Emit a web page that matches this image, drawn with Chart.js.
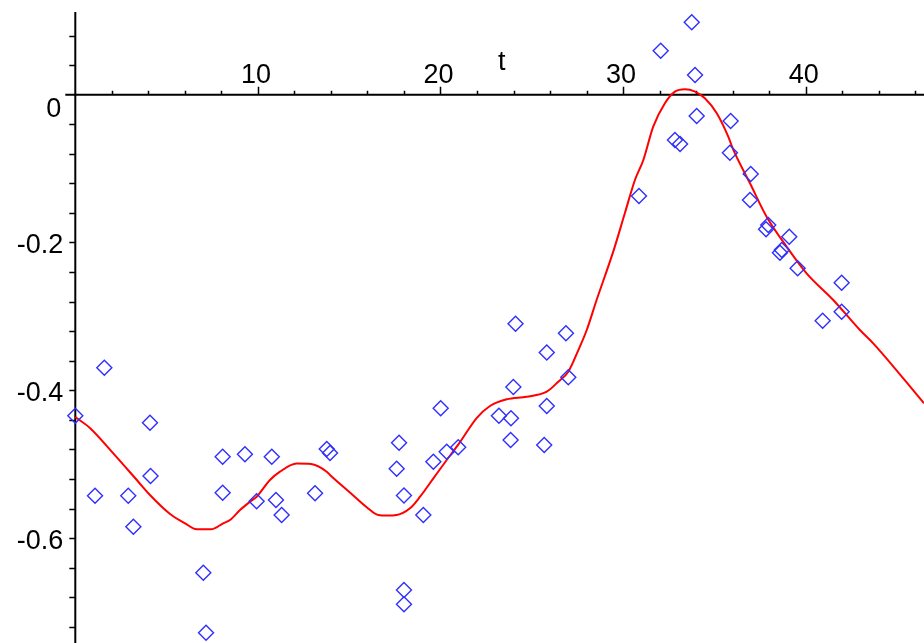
<!DOCTYPE html>
<html>
<head>
<meta charset="utf-8">
<script src="https://cdn.jsdelivr.net/npm/chart.js@4.4.1/dist/chart.umd.min.js"></script>
<style>
  body { margin: 0; background: #fff; }
  canvas { display: block; }
</style>
</head>
<body>
<canvas id="plot" width="924" height="643"></canvas>
<script>
// measured points (t, value)
const pointT = [0.0, 1.08, 1.59, 2.90, 3.18, 4.09, 4.12, 7.01, 7.16, 8.07,
  8.07, 9.29, 9.93, 10.76, 10.99, 11.30, 13.13, 13.77, 13.95, 17.60,
  17.73, 18.00, 18.00, 18.00, 19.06, 19.61, 20.01, 20.34, 20.97, 23.20,
  23.84, 23.86, 23.99, 24.11, 25.68, 25.82, 25.82, 26.87, 27.00, 30.87,
  32.06, 32.84, 33.12, 33.76, 33.94, 34.03, 35.89, 35.85, 36.99, 36.95,
  37.83, 37.95, 38.59, 38.69, 39.10, 39.56, 40.93, 41.97, 41.97];
const pointV = [-0.4344, -0.5426, -0.3694, -0.5426, -0.5846, -0.4438, -0.5160, -0.6468, -0.7280, -0.4899,
  -0.5386, -0.4865, -0.5501, -0.4899, -0.5484, -0.5687, -0.5394, -0.4794, -0.4848, -0.5061,
  -0.4709, -0.5424, -0.6702, -0.6896, -0.5687, -0.4966, -0.4244, -0.4831, -0.4771, -0.4344,
  -0.4673, -0.4379, -0.3955, -0.3099, -0.4740, -0.3489, -0.4212, -0.3229, -0.3824, -0.1371,
  0.0595, -0.0613, -0.0667, 0.0980, 0.0267, -0.0288, -0.0356, -0.0785, -0.1073, -0.1425,
  -0.1821, -0.1763, -0.2138, -0.2101, -0.1922, -0.2349, -0.3058, -0.2544, -0.2936];

// fitted curve
const curveT = [0, 0.80, 2.08, 3.45, 4.09, 5.19, 6.01, 6.65, 7.05, 7.43,
  8.10, 8.47, 9.02, 9.57, 9.93, 10.66, 11.21, 12.12, 12.91, 13.77,
  13.95, 15.04, 15.96, 16.59, 17.07, 17.60, 18.33, 18.88, 19.61, 20.34,
  21.07, 21.98, 22.71, 23.63, 24.72, 25.82, 26.45, 27.00, 27.55, 28.01,
  28.55, 29.46, 30.10, 30.65, 31.11, 31.65, 32.29, 32.84, 33.39, 33.94,
  34.48, 35.13, 35.76, 36.04, 36.95, 37.86, 38.96, 40.05, 41.51, 42.97,
  43.70, 46.48];
const curveV = [-0.4361, -0.4510, -0.4853, -0.5237, -0.5417, -0.5674, -0.5800, -0.5880, -0.5881, -0.5881,
  -0.5800, -0.5755, -0.5620, -0.5507, -0.5440, -0.5214, -0.5101, -0.4991, -0.4997, -0.5101,
  -0.5146, -0.5383, -0.5583, -0.5687, -0.5694, -0.5687, -0.5597, -0.5440, -0.5191, -0.4943,
  -0.4700, -0.4375, -0.4212, -0.4122, -0.4087, -0.4019, -0.3884, -0.3748, -0.3455, -0.3184,
  -0.2778, -0.2124, -0.1601, -0.1154, -0.0884, -0.0433, -0.0116, 0.0041, 0.0073, 0.0041,
  -0.0049, -0.0252, -0.0568, -0.0748, -0.1199, -0.1651, -0.2057, -0.2417, -0.2778, -0.3184,
  -0.3364, -0.4176];

const xTickLabels = [10, 20, 30, 40];
const yTickLabels = [0, -0.2, -0.4, -0.6];
const xLabel = 't';

const FONT = '27px "Liberation Sans", Arial, sans-serif';

// Maple style axes crossing at the origin
const mapleAxes = {
  id: 'mapleAxes',
  beforeDatasetsDraw(chart) {
    const { ctx, chartArea } = chart;
    const x = chart.scales.x, y = chart.scales.y;
    const x0 = x.getPixelForValue(0);
    const y0 = y.getPixelForValue(0);
    ctx.save();
    ctx.strokeStyle = '#000';
    ctx.lineWidth = 2;
    ctx.beginPath();
    ctx.moveTo(x0 - 10, y0);
    ctx.lineTo(chartArea.right, y0);
    ctx.moveTo(x0, y.getPixelForValue(0.112));
    ctx.lineTo(x0, chartArea.bottom);
    ctx.stroke();

    ctx.lineWidth = 1.5;
    ctx.beginPath();
    for (let t = 2; t <= 46; t += 2) {
      const px = Math.round(x.getPixelForValue(t)) + 0.5;
      const len = t % 10 === 0 ? 8 : 4;
      ctx.moveTo(px, y0);
      ctx.lineTo(px, y0 - len);
    }
    for (let k = 2; k >= -18; k--) {
      if (k === 0) continue;
      const py = Math.round(y.getPixelForValue(k * 0.04)) + 0.5;
      ctx.moveTo(x0, py);
      ctx.lineTo(x0 - 6, py);
    }
    ctx.stroke();

    ctx.fillStyle = '#000';
    ctx.font = FONT;
    ctx.textAlign = 'center';
    ctx.textBaseline = 'alphabetic';
    xTickLabels.forEach(v => {
      ctx.fillText(String(v), x.getPixelForValue(v) - 2, y0 - 11.5);
    });
    ctx.fillText(xLabel, x.getPixelForValue(23.35), y0 - 24.5);

    ctx.textAlign = 'right';
    ctx.textBaseline = 'middle';
    yTickLabels.forEach(v => {
      if (v === 0) {
        ctx.fillText('0', x0 - 14, y0 + 15);
      } else {
        ctx.fillText(String(v), x0 - 12, y.getPixelForValue(v) + 3);
      }
    });
    ctx.restore();
  }
};

new Chart(document.getElementById('plot'), {
  type: 'scatter',
  data: {
    datasets: [{
      label: 'data',
      data: pointT.map((t, i) => ({ x: t, y: pointV[i] })),
      pointStyle: 'rectRot',
      pointRadius: 7.5,
      borderWidth: 1.4,
      borderColor: '#2f2fff',
      backgroundColor: 'rgba(0,0,0,0)',
      showLine: false
    }, {
      label: 'fit',
      data: curveT.map((t, i) => ({ x: t, y: curveV[i] })),
      showLine: true,
      pointRadius: 0,
      borderColor: '#ff0000',
      borderWidth: 2,
      cubicInterpolationMode: 'monotone',
      fill: false
    }]
  },
  options: {
    responsive: false,
    animation: false,
    events: [],
    layout: { padding: 0, autoPadding: false },
    plugins: { legend: { display: false }, tooltip: { enabled: false } },
    scales: {
      x: { type: 'linear', min: -4.124, max: 46.48, display: false },
      y: { type: 'linear', min: -0.7419, max: 0.1281, display: false }
    }
  },
  plugins: [mapleAxes]
});
</script>
</body>
</html>
